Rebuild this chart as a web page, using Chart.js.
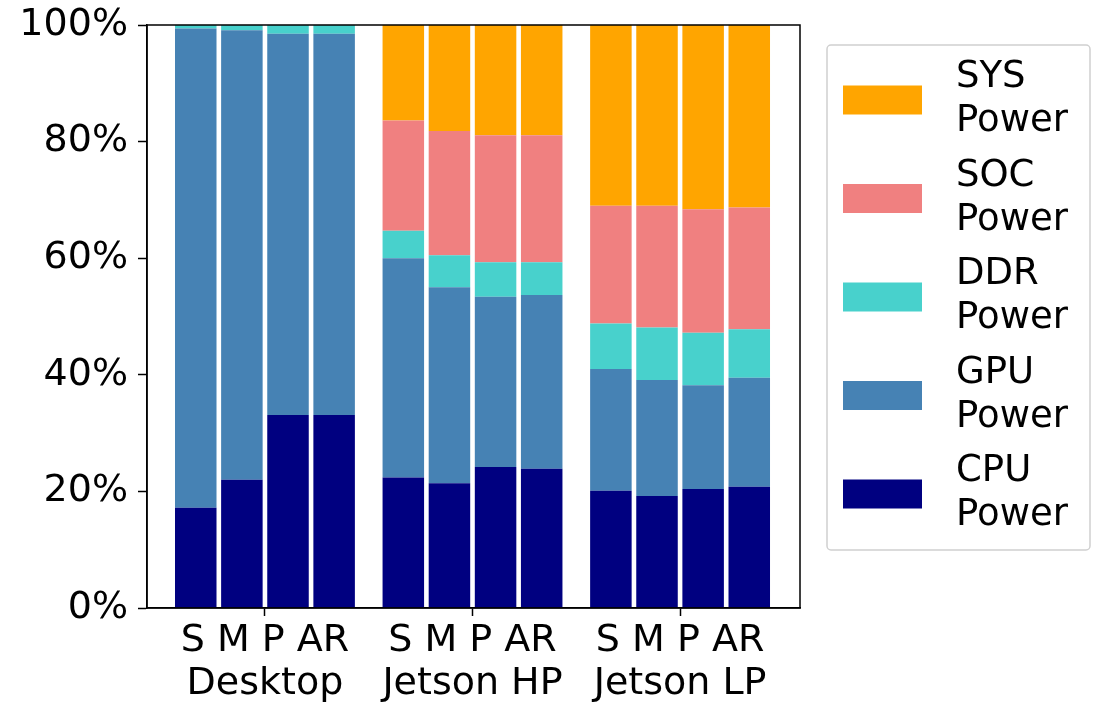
<!DOCTYPE html>
<html>
<head>
<meta charset="utf-8">
<script src="https://cdn.jsdelivr.net/npm/chart.js@4/dist/chart.umd.min.js"></script>
<style>
  html, body { margin: 0; padding: 0; background: #fff; }
  canvas { display: block; }
</style>
</head>
<body>
<canvas id="c" width="1101" height="705"></canvas>
<script>
// ---- data ----
const groups = ["Desktop", "Jetson HP", "Jetson LP"];
const barLabels = ["S", "M", "P", "AR"];
const cpuPower = [17.2, 22.0, 33.1, 33.1, 22.4, 21.4, 24.2, 23.9, 20.1, 19.2, 20.4, 20.8];
const gpuPower = [82.2, 77.1, 65.4, 65.4, 37.6, 33.6, 29.2, 29.8, 20.9, 19.9, 17.8, 18.7];
const ddrPower = [0.6, 0.9, 1.5, 1.5, 4.7, 5.5, 5.9, 5.6, 7.8, 9.0, 9.0, 8.3];
const socPower = [0, 0, 0, 0, 18.9, 21.3, 21.8, 21.8, 20.2, 20.9, 21.2, 20.9];
const sysPower = [0, 0, 0, 0, 16.4, 18.2, 18.9, 18.9, 31.0, 31.0, 31.6, 31.3];
const yTicks = [0, 20, 40, 60, 80, 100];

// ---- layout helpers ----
const GROUP_STEP = 4.5;
const groupCenters = groups.map((g, gi) => gi * GROUP_STEP);
function xPos(idx) {
  const gi = Math.floor(idx / barLabels.length);
  const bi = idx % barLabels.length;
  return groupCenters[gi] + bi - (barLabels.length - 1) / 2;
}
function toPoints(arr) { return arr.map((v, i) => ({ x: xPos(i), y: v })); }

const FONT = "'DejaVu Sans', sans-serif";
const FS = 38;

const series = [
  { label: "CPU Power", data: cpuPower, color: "#000080" },
  { label: "GPU Power", data: gpuPower, color: "#4682B4" },
  { label: "DDR Power", data: ddrPower, color: "#48D1CC" },
  { label: "SOC Power", data: socPower, color: "#F08080" },
  { label: "SYS Power", data: sysPower, color: "#FFA500" }
];

const framePlugin = {
  id: "frame",
  afterDraw(chart) {
    const { ctx, chartArea: a } = chart;
    ctx.save();
    ctx.strokeStyle = "#000";
    ctx.lineWidth = 1.5;
    ctx.strokeRect(a.left, a.top, a.right - a.left, a.bottom - a.top);
    ctx.restore();
  }
};

const legendPlugin = {
  id: "sideLegend",
  afterDraw(chart) {
    const { ctx, chartArea: a } = chart;
    const left = a.right + 27, top = a.top + 20, w = 263, h = 505;
    ctx.save();
    ctx.strokeStyle = "#d0d0d0";
    ctx.lineWidth = 1.5;
    ctx.fillStyle = "rgba(255,255,255,0.8)";
    ctx.beginPath();
    ctx.roundRect(left, top, w, h, 4);
    ctx.fill();
    ctx.stroke();
    const ds = chart.data.datasets.slice().reverse();
    const step = 98.5;
    ds.forEach((d, i) => {
      const cy = top + 55 + i * step;
      ctx.fillStyle = d.backgroundColor;
      ctx.fillRect(left + 16, cy - 14.5, 79, 29);
      ctx.fillStyle = "#000";
      ctx.font = "37px " + FONT;
      ctx.textBaseline = "alphabetic";
      ctx.textAlign = "left";
      const parts = d.label.split(" ");
      ctx.fillText(parts[0], left + 129, cy - 13);
      ctx.fillText(parts.slice(1).join(" "), left + 129, cy + 31);
    });
    ctx.restore();
  }
};

new Chart(document.getElementById("c"), {
  type: "bar",
  data: {
    datasets: series.map(s => ({
      label: s.label,
      data: toPoints(s.data),
      backgroundColor: s.color,
      borderWidth: 0,
      barPercentage: 0.9,
      categoryPercentage: 1.0
    }))
  },
  options: {
    responsive: false,
    animation: false,
    devicePixelRatio: 1,
    layout: { padding: { top: 25, right: 301, left: 0, bottom: 0 } },
    plugins: { legend: { display: false }, tooltip: { enabled: false } },
    scales: {
      x: {
        type: "linear",
        stacked: true,
        min: -2.557,
        max: 11.6,
        offset: false,
        afterFit(scale) { scale.height = 97; scale.paddingLeft = 0; scale.paddingRight = 0; },
        afterBuildTicks(scale) { scale.ticks = groupCenters.map(v => ({ value: v })); },
        ticks: {
          color: "#000",
          font: { family: FONT, size: FS, lineHeight: 1.13 },
          padding: 4,
          maxRotation: 0,
          autoSkip: false,
          callback: (v) => {
            const gi = groupCenters.indexOf(v);
            return gi < 0 ? "" : [barLabels.join(" "), groups[gi]];
          }
        },
        grid: { offset: false, drawOnChartArea: false, tickLength: 8, tickColor: "#000", tickWidth: 1.5 },
        border: { color: "#000", width: 1.5 }
      },
      y: {
        stacked: true,
        min: 0,
        max: 100,
        afterFit(scale) { scale.width = 147; scale.paddingTop = 0; scale.paddingBottom = 0; },
        afterBuildTicks(scale) { scale.ticks = yTicks.map(v => ({ value: v })); },
        ticks: {
          color: "#000",
          font: { family: FONT, size: FS },
          padding: 10,
          callback: v => v + "%"
        },
        grid: { drawOnChartArea: false, tickLength: 9, tickColor: "#000", tickWidth: 1.5 },
        border: { color: "#000", width: 1.5 }
      }
    }
  },
  plugins: [framePlugin, legendPlugin]
});
</script>
</body>
</html>
